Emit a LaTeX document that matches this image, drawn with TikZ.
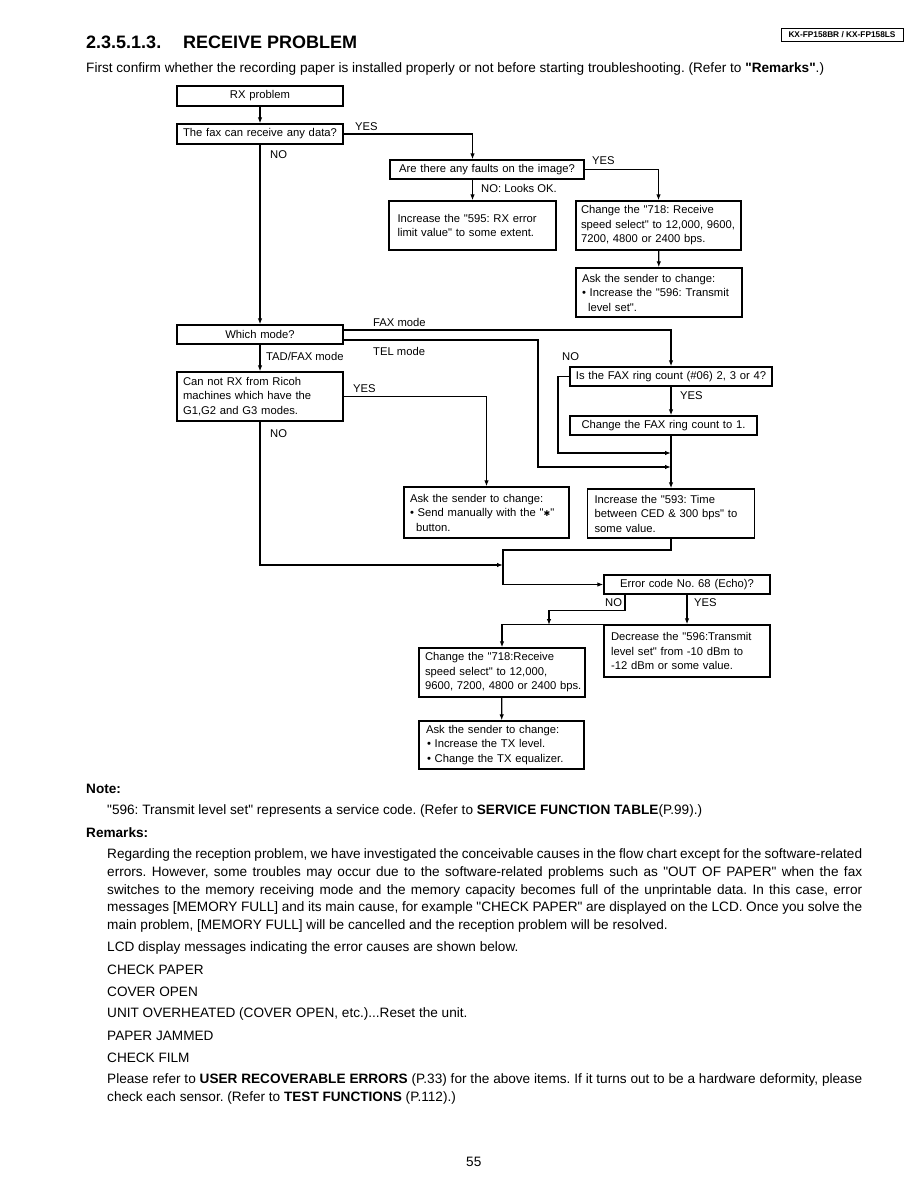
\documentclass[tikz,border=0pt]{standalone}
\usepackage{fontspec}
\setmainfont{Liberation Sans}[Ligatures=TeXOff]
\newfontfamily\dejavu{DejaVu Sans}
\usetikzlibrary{arrows.meta}
\newcommand\boxfont{\fontsize{11.25}{14.5}\selectfont}
\newcommand\bodyfont{\fontsize{13.6}{17.5}\selectfont}
\newcommand\titlefont{\fontsize{18}{20}\selectfont\bfseries}
\newcommand\jline[1]{\makebox[755pt][s]{#1}}
\begin{document}
\frenchspacing
\begin{tikzpicture}[x=1pt,y=-1pt,
  box/.style={draw,line width=1.3pt,inner xsep=7pt,inner ysep=2pt,font=\boxfont,align=left},
  cbox/.style={box,align=center},
  lbl/.style={font=\boxfont,inner sep=0pt,anchor=west},
  txt/.style={font=\bodyfont,inner sep=0pt,anchor=west},
  arr/.style={line width=1.25pt,-{Latex[length=6pt,width=4.5pt]}},
  ln/.style={line width=1.25pt}]
\useasboundingbox (0,0) rectangle (918,1188);
% header
\node[draw,line width=0.8pt,font=\fontsize{8.3}{9}\selectfont\bfseries,inner xsep=2pt,inner ysep=1.5pt,minimum width=122pt,minimum height=13pt] (hdr) at (842,34.5) {KX-FP158BR / KX-FP158LS};
\node[anchor=west,font=\titlefont,inner sep=0pt] (t1) at (86,42) {2.3.5.1.3.};
\node[anchor=west,font=\titlefont,inner sep=0pt] (t2) at (183,42) {RECEIVE PROBLEM};
\node[txt] (intro) at (86,69) {First confirm whether the recording paper is installed properly or not before starting troubleshooting. (Refer to \textbf{"Remarks"}.)};

% boxes
\node[cbox,text width=158pt,minimum height=20pt,inner xsep=4pt] (rx) at (260,96) {RX problem};
\node[cbox,text width=158pt,minimum height=20pt,inner xsep=4pt] (fax) at (260,134) {The fax can receive any data?};
\node[cbox,text width=186pt,minimum height=19pt,inner xsep=4pt] (faults) at (487,169.5) {Are there any faults on the image?};
\node[box,text width=150pt,minimum height=49pt,inner xsep=8.5pt] (inc595) at (472.5,225.5) {Increase the "595: RX error\\limit value" to some extent.};
\node[box,text width=155pt,minimum height=49pt,inner xsep=5pt] (chg718) at (658.5,225.5) {Change the "718: Receive\\speed select" to 12,000, 9600,\\7200, 4800 or 2400 bps.};
\node[box,text width=154pt,minimum height=49pt,inner xsep=6pt] (ask1) at (659,292.5) {Ask the sender to change:\\• Increase the "596: Transmit\\\hspace*{6pt}level set".};
\node[cbox,text width=158pt,minimum height=19pt,inner xsep=4pt] (mode) at (260,334.5) {Which mode?};
\node[box,text width=154pt,minimum height=49pt,inner xsep=6pt] (ricoh) at (260,396.5) {Can not RX from Ricoh\\machines which have the\\G1,G2 and G3 modes.};
\node[cbox,text width=192pt,minimum height=19pt,inner xsep=5pt] (ring) at (671,376.5) {Is the FAX ring count (\#06) 2, 3 or 4?};
\node[cbox,text width=179pt,minimum height=19pt,inner xsep=4pt] (ring1) at (663.5,425.5) {Change the FAX ring count to 1.};
\node[box,text width=153pt,minimum height=51pt,inner xsep=6pt] (send) at (486.5,512.5) {Ask the sender to change:\\• Send manually with the "{\dejavu\fontsize{8}{8}\selectfont ✱}"\\\hspace*{6pt}button.};
\node[box,text width=153pt,minimum height=49pt] (inc593) at (671,513.5) {Increase the "593: Time\\between CED \& 300 bps" to\\some value.};
\node[cbox,text width=158pt,minimum height=19pt,inner xsep=4pt] (err) at (687,584.5) {Error code No. 68 (Echo)?};
\node[box,text width=152pt,minimum height=52pt] (dec) at (687,651) {Decrease the "596:Transmit\\level set" from -10 dBm to\\-12 dBm or some value.};
\node[box,text width=160pt,minimum height=49pt,inner xsep=3pt] (chg2) at (502,672.5) {\hspace*{3pt}Change the "718:Receive\\\hspace*{3pt}speed select" to 12,000,\\\hspace*{3pt}9600, 7200, 4800 or 2400 bps.};
\node[box,text width=155pt,minimum height=48pt,inner xsep=5pt] (ask2) at (501.5,745) {\hspace*{2pt}Ask the sender to change:\\\hspace*{3pt}• Increase the TX level.\\\hspace*{3pt}• Change the TX equalizer.};

% connectors
\draw[arr] (rx) -- (fax);
\draw[arr] (fax.east) -| (faults.north -| inc595.north);
\draw[arr] (faults.south -| inc595.north) -- (inc595.north);
\draw[arr] (faults.east) -| (chg718.north);
\draw[arr] (chg718) -- (ask1);
\draw[arr] (fax) -- (mode);
\draw[arr] ([yshift=4.5pt]mode.east) -| (ring.north);
\coordinate (telc) at (538,467);
\coordinate (noc) at (558,453);
\draw[arr] ([yshift=-5.5pt]mode.east) -| (telc) -- (telc -| ring.south);
\draw[arr] (ring.west) -| (noc) -- (noc -| ring.south);
\draw[arr] (ring.south) -- (ring.south |- ring1.north);
\draw[arr] (ring.south |- ring1.south) -- (inc593.north);
\draw[arr] (mode) -- (ricoh);
\draw[arr] (ricoh.east) -| (send.north);
\coordinate (j3) at (503,565);
\coordinate (j4) at (503,550);
\draw[arr] (ricoh.south) |- (j3);
\draw[arr] (inc593.south) |- (j4) |- (err.west);
\coordinate (nob) at (549,625);
\draw[arr] ([xshift=-62pt]err.south) -- ++(0,16) -| (nob);
\draw[arr] (err.south) -- (dec.north);
\draw[arr] (dec.north west) -| (chg2.north);
\draw[arr] (chg2) -- (ask2);

% labels
\node[lbl] (l1) at (355,127) {YES};
\node[lbl] (l2) at (270,155) {NO};
\node[lbl] (l3) at (592,161) {YES};
\node[lbl] (l4) at (481,188) {NO: Looks OK.};
\node[lbl] (l5) at (373,322) {FAX mode};
\node[lbl] (l6) at (373,351) {TEL mode};
\node[lbl] (l7) at (266,356) {TAD/FAX mode};
\node[lbl] (l8) at (562,357) {NO};
\node[lbl] (l9) at (680,396) {YES};
\node[lbl] (l10) at (353,389) {YES};
\node[lbl] (l11) at (270,434) {NO};
\node[lbl] (l12) at (605,603) {NO};
\node[lbl] (l13) at (694,603) {YES};

% text below
\node[txt,font=\bodyfont\bfseries] (note) at (86,789) {Note:};
\node[txt] (noteln) at (107,811) {"596: Transmit level set" represents a service code. (Refer to \textbf{SERVICE FUNCTION TABLE}(P.99).)};
\node[txt,font=\bodyfont\bfseries] (rem) at (86,833) {Remarks:};
\node[txt] (r1) at (107,855) {\jline{Regarding the reception problem, we have investigated the conceivable causes in the flow chart except for the software-related}};
\node[txt] (r2) at (107,873) {\jline{errors. However, some troubles may occur due to the software-related problems such as "OUT OF PAPER" when the fax}};
\node[txt] (r3) at (107,891) {\jline{switches to the memory receiving mode and the memory capacity becomes full of the unprintable data. In this case, error}};
\node[txt] (r4) at (107,908) {\jline{messages [MEMORY FULL] and its main cause, for example "CHECK PAPER" are displayed on the LCD. Once you solve the}};
\node[txt] (r5) at (107,926) {main problem, [MEMORY FULL] will be cancelled and the reception problem will be resolved.};
\node[txt] (r6) at (107,948) {LCD display messages indicating the error causes are shown below.};
\node[txt] (r7) at (107,970) {CHECK PAPER};
\node[txt] (r8) at (107,992) {COVER OPEN};
\node[txt] (r9) at (107,1014) {UNIT OVERHEATED (COVER OPEN, etc.)...Reset the unit.};
\node[txt] (r10) at (107,1036) {PAPER JAMMED};
\node[txt] (r11) at (107,1058) {CHECK FILM};
\node[txt] (r12) at (107,1080) {\jline{Please refer to \textbf{USER RECOVERABLE ERRORS} (P.33) for the above items. If it turns out to be a hardware deformity, please}};
\node[txt] (r13) at (107,1098) {check each sensor. (Refer to \textbf{TEST FUNCTIONS} (P.112).)};
\node[txt] (pg) at (466,1162) {55};
\end{tikzpicture}
\end{document}
